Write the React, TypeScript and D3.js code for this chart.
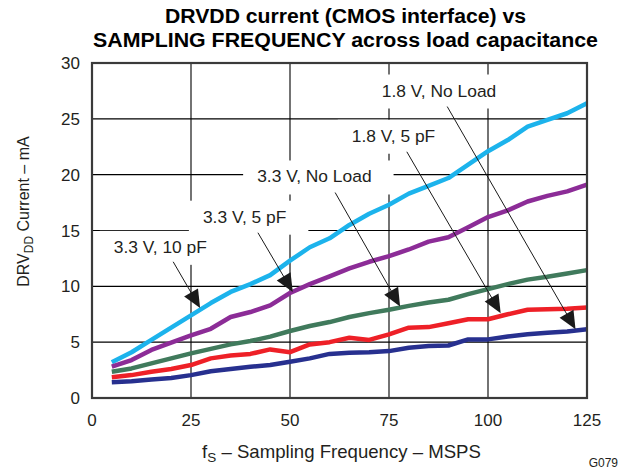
import React, { useEffect, useRef } from "react";
import * as d3 from "d3";

// sampling frequency, MSPS
const samplingRates = [5, 10, 15, 20, 25, 30, 35, 40, 45, 50, 55, 60, 65, 70, 75, 80, 85, 90, 95, 100, 105, 110, 115, 120, 125];

// DRVDD current, mA (one array per load condition)
const current33v10pF = [3.2, 4.1, 5.2, 6.3, 7.4, 8.5, 9.5, 10.2, 11.0, 12.3, 13.5, 14.3, 15.5, 16.5, 17.3, 18.3, 19.0, 19.7, 20.9, 22.1, 23.1, 24.3, 24.9, 25.5, 26.4];
const current33v5pF = [2.8, 3.4, 4.3, 4.95, 5.6, 6.2, 7.25, 7.7, 8.3, 9.4, 10.2, 10.9, 11.6, 12.2, 12.7, 13.3, 14.0, 14.4, 15.3, 16.2, 16.8, 17.6, 18.1, 18.5, 19.1];
const current33vNoLoad = [2.35, 2.65, 3.1, 3.55, 4.0, 4.4, 4.8, 5.1, 5.5, 6.0, 6.45, 6.8, 7.25, 7.6, 7.9, 8.25, 8.55, 8.8, 9.3, 9.75, 10.2, 10.6, 10.85, 11.15, 11.45];
const current18v5pF = [1.85, 2.05, 2.35, 2.6, 2.95, 3.55, 3.8, 3.95, 4.35, 4.1, 4.8, 5.0, 5.4, 5.2, 5.7, 6.3, 6.35, 6.7, 7.05, 7.05, 7.5, 7.9, 7.95, 8.0, 8.1];
const current18vNoLoad = [1.4, 1.5, 1.65, 1.8, 2.05, 2.4, 2.6, 2.8, 2.95, 3.25, 3.55, 3.95, 4.05, 4.1, 4.2, 4.5, 4.65, 4.7, 5.25, 5.25, 5.5, 5.7, 5.85, 5.95, 6.15];

const seriesNames = ["3.3 V, 10 pF", "3.3 V, 5 pF", "3.3 V, No Load", "1.8 V, 5 pF", "1.8 V, No Load"];
const seriesValues = [current33v10pF, current33v5pF, current33vNoLoad, current18v5pF, current18vNoLoad];
const seriesColors = ["#1cb3ec", "#8c2c97", "#407a5c", "#ee2027", "#27308f"];

const xTicks = [0, 25, 50, 75, 100, 125];
const yTicks = [0, 5, 10, 15, 20, 25, 30];

// callouts, in data units (MSPS, mA): where the text sits, where the arrow starts, where it points
const calloutText = [[5.5, 13.0], [28.0, 15.7], [41.7, 19.3], [65.6, 22.95], [73.2, 27.0]];
const calloutFrom = [[20.5, 12.2], [41.9, 14.8], [61.4, 18.4], [79.5, 22.05], [89.7, 26.1]];
const calloutTo = [[27.3, 8.05], [50.7, 9.5], [77.8, 8.2], [103.2, 7.6], [122.1, 6.15]];

const titleLines = ["DRVDD current (CMOS interface) vs", "SAMPLING FREQUENCY across load capacitance"];

const WIDTH = 623;
const HEIGHT = 473;
const margin = { top: 63, right: 36, bottom: 75, left: 92 };
const FONT = "'Liberation Sans', Arial, Helvetica, sans-serif";

const App: React.FC = () => {
  const ref = useRef<SVGSVGElement | null>(null);

  useEffect(() => {
    const svg = d3.select(ref.current).attr("width", WIDTH).attr("height", HEIGHT);
    svg.selectAll("*").remove();

    const x = d3.scaleLinear().domain([0, 125]).range([margin.left, WIDTH - margin.right]);
    const y = d3.scaleLinear().domain([0, 30]).range([HEIGHT - margin.bottom, margin.top]);

    svg.append("rect").attr("width", WIDTH).attr("height", HEIGHT).attr("fill", "#fff");

    // title
    svg
      .append("g")
      .selectAll("text")
      .data(titleLines)
      .join("text")
      .attr("x", 345.5)
      .attr("y", (_, i) => 23.3 + i * 23.4)
      .attr("text-anchor", "middle")
      .attr("font-family", FONT)
      .attr("font-weight", "bold")
      .attr("font-size", 19.5)
      .attr("textLength", (_, i) => (i === 0 ? 361 : 505))
      .attr("lengthAdjust", "spacingAndGlyphs")
      .text((d) => d);

    // grid
    const grid = svg.append("g").attr("stroke", "#000").attr("stroke-width", 1.1);
    grid
      .selectAll("line.v")
      .data(xTicks.slice(1, -1))
      .join("line")
      .attr("class", "v")
      .attr("x1", (d) => x(d))
      .attr("x2", (d) => x(d))
      .attr("y1", y(30))
      .attr("y2", y(0));
    grid
      .selectAll("line.h")
      .data(yTicks.slice(1, -1))
      .join("line")
      .attr("class", "h")
      .attr("x1", x(0))
      .attr("x2", x(125))
      .attr("y1", (d) => y(d))
      .attr("y2", (d) => y(d));

    const boxes = svg.append("g");

    // data lines
    const line = d3
      .line<number>()
      .x((_, i) => x(samplingRates[i]))
      .y((d) => y(d));
    svg
      .append("g")
      .selectAll("path")
      .data(seriesValues)
      .join("path")
      .attr("fill", "none")
      .attr("stroke", (_, i) => seriesColors[i])
      .attr("stroke-width", 4.5)
      .attr("stroke-linejoin", "round")
      .attr("d", (d) => line(d));

    // frame
    svg
      .append("rect")
      .attr("x", x(0))
      .attr("y", y(30))
      .attr("width", x(125) - x(0))
      .attr("height", y(0) - y(30))
      .attr("fill", "none")
      .attr("stroke", "#3a3a3a")
      .attr("stroke-width", 2.2);

    // callout arrows
    const arrows = svg.append("g");
    seriesNames.forEach((_, i) => {
      const [sx, sy] = [x(calloutFrom[i][0]), y(calloutFrom[i][1])];
      const [tx, ty] = [x(calloutTo[i][0]), y(calloutTo[i][1])];
      const len = Math.hypot(tx - sx, ty - sy);
      const ux = (tx - sx) / len;
      const uy = (ty - sy) / len;
      const headL = 18;
      const headW = 8;
      arrows
        .append("line")
        .attr("x1", sx)
        .attr("y1", sy)
        .attr("x2", tx - ux * headL * 0.6)
        .attr("y2", ty - uy * headL * 0.6)
        .attr("stroke", "#1a1a1a")
        .attr("stroke-width", 1);
      const bx = tx - ux * headL;
      const by = ty - uy * headL;
      arrows
        .append("path")
        .attr(
          "d",
          `M${tx},${ty}L${bx - uy * headW},${by + ux * headW}L${bx + uy * headW},${by - ux * headW}Z`
        )
        .attr("fill", "#1a1a1a");
    });

    // callout labels with white boxes behind them
    const labels = svg.append("g");
    seriesNames.forEach((name, i) => {
      const t = labels
        .append("text")
        .attr("x", x(calloutText[i][0]))
        .attr("y", y(calloutText[i][1]))
        .attr("font-family", FONT)
        .attr("font-size", 17.4)
        .attr("fill", "#231f20")
        .text(name);
      const bb = (t.node() as SVGTextElement).getBBox();
      boxes
        .append("rect")
        .attr("x", bb.x - 14)
        .attr("y", bb.y - 6)
        .attr("width", bb.width + 36)
        .attr("height", bb.height + 14)
        .attr("fill", "#fff");
    });

    // tick labels
    svg
      .append("g")
      .selectAll("text")
      .data(xTicks)
      .join("text")
      .attr("x", (d) => x(d))
      .attr("y", 425.7)
      .attr("text-anchor", "middle")
      .attr("font-family", FONT)
      .attr("font-size", 17)
      .attr("fill", "#231f20")
      .text((d) => d);
    svg
      .append("g")
      .selectAll("text")
      .data(yTicks)
      .join("text")
      .attr("x", x(0) - 12)
      .attr("y", (d) => y(d))
      .attr("dy", "0.36em")
      .attr("text-anchor", "end")
      .attr("font-family", FONT)
      .attr("font-size", 17)
      .attr("fill", "#231f20")
      .text((d) => d);

    // axis titles
    const xTitle = svg
      .append("text")
      .attr("x", (x(0) + x(125)) / 2 + 2)
      .attr("y", 458.3)
      .attr("text-anchor", "middle")
      .attr("font-family", FONT)
      .attr("font-size", 18.6)
      .attr("fill", "#231f20");
    xTitle.append("tspan").text("f");
    xTitle.append("tspan").attr("font-size", 13.5).attr("dy", 4).text("S");
    xTitle.append("tspan").attr("dy", -4).text(" – Sampling Frequency – MSPS");

    const yTitle = svg
      .append("text")
      .attr("transform", `translate(29,211.5) rotate(-90)`)
      .attr("text-anchor", "middle")
      .attr("font-family", FONT)
      .attr("font-size", 16)
      .attr("fill", "#231f20");
    yTitle.append("tspan").text("DRV");
    yTitle.append("tspan").attr("font-size", 12).attr("dy", 4).text("DD");
    yTitle.append("tspan").attr("dy", -4).text(" Current – mA");

    svg
      .append("text")
      .attr("x", 618)
      .attr("y", 467)
      .attr("text-anchor", "end")
      .attr("font-family", FONT)
      .attr("font-size", 12)
      .attr("fill", "#231f20")
      .text("G079");
  }, []);

  return (
    <div style={{ position: "absolute", left: 0, top: 0 }}>
      <svg ref={ref}></svg>
    </div>
  );
};

export default App;
